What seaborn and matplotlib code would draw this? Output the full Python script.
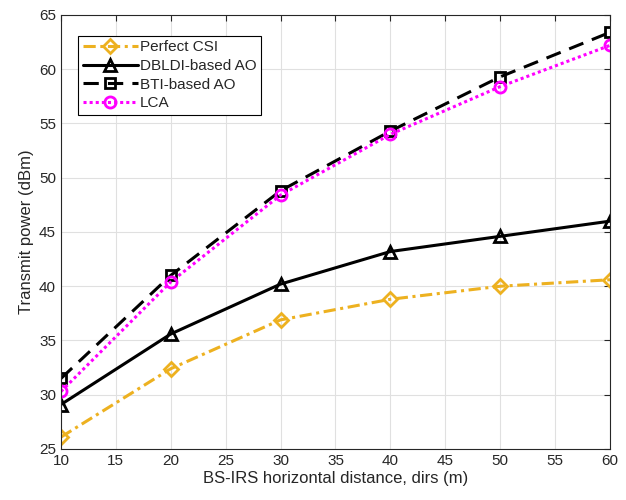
import numpy as np
import pandas as pd
import matplotlib
matplotlib.use("Agg")
import matplotlib.pyplot as plt
import seaborn as sns

distance = [10, 20, 30, 40, 50, 60]
perfect_csi = [26.1, 32.4, 36.9, 38.8, 40.0, 40.6]
dbldi_ao = [29.1, 35.6, 40.2, 43.2, 44.6, 46.0]
bti_ao = [31.5, 41.0, 48.8, 54.3, 59.3, 63.4]
lca = [30.3, 40.4, 48.4, 54.0, 58.4, 62.2]

sns.set_style("white")
plt.rcParams['font.family'] = ['Liberation Sans', 'DejaVu Sans']

fig = plt.figure(figsize=(6.26, 5.0), dpi=100)
ax = fig.add_axes([0.0974, 0.102, 0.877, 0.868])

series = [
    ("Perfect CSI", perfect_csi, dict(color="#EDB120", ls=(0, (4, 1.5, 1, 1.5)), marker="D", ms=7)),
    ("DBLDI-based AO", dbldi_ao, dict(color="black", ls="-", marker="^", ms=9)),
    ("BTI-based AO", bti_ao, dict(color="black", ls=(0, (5, 3)), marker="s", ms=7)),
    ("LCA", lca, dict(color="#FF00FF", ls=(0, (1, 1)), marker="o", ms=8)),
]
for name, vals, st in series:
    df = pd.DataFrame({"x": distance, "y": vals})
    sns.lineplot(data=df, x="x", y="y", ax=ax, label=name, color=st["color"],
                 linestyle=st["ls"], marker=st["marker"], markersize=st["ms"],
                 markerfacecolor="none", markeredgecolor=st["color"],
                 markeredgewidth=2, linewidth=2.2)

ax.set_xlim(10, 60)
ax.set_ylim(25, 65)
ax.set_xticks(range(10, 61, 5))
ax.set_yticks(range(25, 66, 5))
ax.grid(True, color="#e0e0e0", linewidth=0.8)
for s in ax.spines.values():
    s.set_color("#262626")
    s.set_linewidth(0.8)
ax.tick_params(direction="in", top=True, right=True, length=4, labelsize=11, colors="#262626")
ax.set_xlabel("BS-IRS horizontal distance, dirs (m)", fontsize=12, color="#262626", labelpad=2)
ax.set_ylabel("Transmit power (dBm)", fontsize=12, color="#262626", labelpad=4)
leg = ax.legend(loc="upper left", bbox_to_anchor=(0.031, 0.952), fontsize=11, frameon=True,
                fancybox=False, edgecolor="black", framealpha=1, handlelength=3.6,
                borderpad=0.3, labelspacing=0.3, handletextpad=0.15, borderaxespad=0)
leg.get_frame().set_linewidth(0.8)

fig.savefig("out.png", dpi=100)
